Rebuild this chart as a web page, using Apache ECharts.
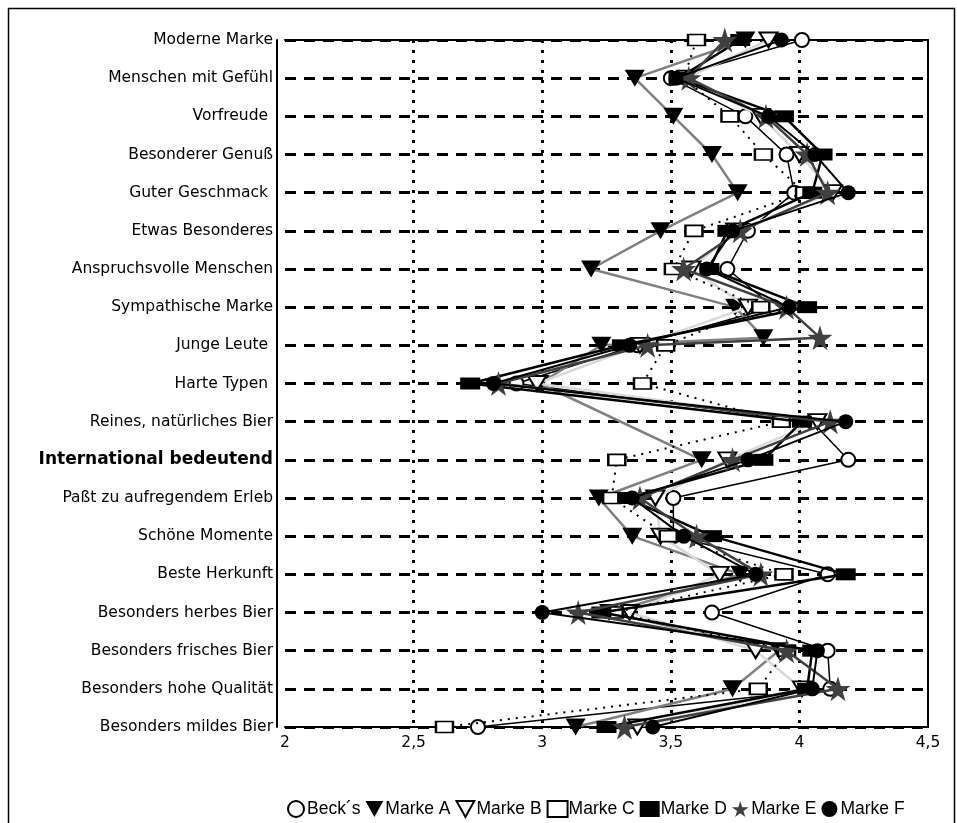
<!DOCTYPE html>
<html><head><meta charset="utf-8">
<script src="https://cdn.jsdelivr.net/npm/echarts@6/dist/echarts.min.js"></script>
<style>html,body{margin:0;padding:0;background:#fff}#c{width:957px;height:823px}</style>
</head><body><div id="c"></div>
<script>
const categories = [
  'Moderne Marke', 'Menschen mit Gefühl', 'Vorfreude ', 'Besonderer Genuß', 'Guter Geschmack ',
  'Etwas Besonderes', 'Anspruchsvolle Menschen', 'Sympathische Marke', 'Junge Leute ', 'Harte Typen ',
  'Reines, natürliches Bier', 'International bedeutend', 'Paßt zu aufregendem Erleb', 'Schöne Momente',
  'Beste Herkunft', 'Besonders herbes Bier', 'Besonders frisches Bier', 'Besonders hohe Qualität', 'Besonders mildes Bier'
];
const boldCategories = ['International bedeutend'];
const xTicks = [2, 2.5, 3, 3.5, 4, 4.5];
const seriesNames = ['Beck´s', 'Marke A', 'Marke B', 'Marke C', 'Marke D', 'Marke E', 'Marke F'];

const becks  = [4.01, 3.50, 3.79, 3.95, 3.98, 3.80, 3.72, 3.90, 3.37, 2.90, 4.05, 4.19, 3.51, 3.51, 4.11, 3.66, 4.11, 4.12, 2.75];
const markeA = [3.79, 3.36, 3.51, 3.66, 3.76, 3.46, 3.19, 3.75, 3.23, 2.99, null, 3.62, 3.22, 3.35, 3.77, 3.26, 3.92, 3.74, 3.13];
const markeB = [3.88, 3.56, 3.85, 4.00, 4.13, 3.75, 3.58, 3.80, 3.38, 2.98, 4.07, 3.72, 3.44, 3.46, 3.69, 3.34, 3.83, 4.01, 3.37];
const markeC = [3.60, 3.55, 3.73, 3.86, 4.02, 3.59, 3.51, 3.85, 3.48, 3.39, 3.93, 3.29, 3.27, 3.49, 3.94, 3.28, 3.95, 3.84, 2.62];
const markeD = [3.77, 3.53, 3.94, 4.09, 4.05, 3.72, 3.65, 4.03, 3.31, 2.72, 4.01, 3.86, 3.33, 3.66, 4.18, 3.23, 4.05, 4.03, 3.25];
const markeE = [3.71, 3.57, 3.87, 4.03, 4.11, 3.77, 3.55, 3.95, 3.41, 2.83, 4.12, 3.74, 3.38, 3.60, 3.85, 3.14, 3.95, 4.15, 3.32];
const markeF = [3.93, 3.52, 3.88, 4.06, 4.19, 3.74, 3.64, 3.96, 3.34, 2.81, 4.18, 3.80, 3.35, 3.55, 3.83, 3.00, 4.07, 4.05, 3.43];

// extra points drawn between "Sympathische Marke" and "Junge Leute"
const extraAfterIndex = 7;
const extraRow = 7.8;
const extraA = 3.86;
const extraE = 4.08;

function build(values, extra) {
  const out = [];
  values.forEach((v, i) => {
    if (v != null) out.push([v, i]);
    if (extra != null && i === extraAfterIndex) out.push([extra, extraRow]);
  });
  return out;
}

const triDown = 'path://M0,0L20,0L10,18Z';
const star = 'path://M50,0L61,35L98,35L68,57L79,91L50,70L21,91L32,57L2,35L39,35Z';

const styles = [
  { data: build(becks), symbol: 'circle', size: 14, item: { color: '#fff', borderColor: '#000', borderWidth: 2 }, line: { color: '#000', width: 1.5 } },
  { data: build(markeA, extraA), symbol: triDown, size: [20, 17], item: { color: '#000', borderColor: '#000', borderWidth: 0 }, line: { color: '#808080', width: 2.5 } },
  { data: build(markeB), symbol: triDown, size: [18, 15], item: { color: '#fff', borderColor: '#000', borderWidth: 2 }, line: { color: '#d9d9d9', width: 2.5 } },
  { data: build(markeC), symbol: 'rect', size: [17, 11], item: { color: '#fff', borderColor: '#000', borderWidth: 2 }, line: { color: '#000', width: 2, type: [2, 6] } },
  { data: build(markeD), symbol: 'rect', size: [20, 12], item: { color: '#000', borderColor: '#000', borderWidth: 0 }, line: { color: '#000', width: 2.5 } },
  { data: build(markeE, extraE), symbol: star, size: 25, item: { color: '#404040', borderColor: '#404040', borderWidth: 0 }, line: { color: '#404040', width: 2.5 } },
  { data: build(markeF), symbol: 'circle', size: 15, item: { color: '#000', borderColor: '#000', borderWidth: 0 }, line: { color: '#000', width: 2 } }
];

const series = styles.map((s, i) => ({
  name: seriesNames[i],
  type: 'line',
  data: s.data,
  symbol: s.symbol,
  symbolSize: s.size,
  showSymbol: true,
  showAllSymbol: true,
  itemStyle: s.item,
  lineStyle: s.line,
  animation: false,
  z: 3 + i,
  emphasis: { disabled: true }
}));

const legendIcons = ['circle', triDown, triDown, 'rect', 'rect', star, 'circle'];

const chart = echarts.init(document.getElementById('c'), null, { renderer: 'canvas' });
chart.setOption({
  animation: false,
  backgroundColor: '#fff',
  textStyle: { fontFamily: 'DejaVu Sans' },
  graphic: [{
    type: 'rect', shape: { x: 8.5, y: 8.5, width: 946, height: 830 },
    style: { fill: 'none', stroke: '#000', lineWidth: 1.5 }, silent: true, z: 0
  }],
  grid: { left: 285, right: 29, top: 40, bottom: 96, containLabel: false },
  xAxis: [{
    type: 'value', min: xTicks[0], max: xTicks[xTicks.length - 1], interval: 0.5, position: 'bottom',
    axisLine: { show: true, onZero: false, lineStyle: { color: '#000', width: 2 } },
    axisTick: { show: false },
    axisLabel: { color: '#000', fontSize: 15.5, fontFamily: 'DejaVu Sans', margin: 8,
      formatter: v => String(v).replace('.', ',') },
    splitLine: { show: true, showMinLine: false, showMaxLine: false, lineStyle: { color: '#000', width: 3, type: [3, 7] } }
  }, {
    type: 'value', min: xTicks[0], max: xTicks[xTicks.length - 1], position: 'top',
    axisLine: { show: true, onZero: false, lineStyle: { color: '#000', width: 2 } },
    axisTick: { show: false }, axisLabel: { show: false }, splitLine: { show: false }
  }],
  yAxis: [{
    type: 'value', min: 0, max: categories.length - 1, interval: 1, inverse: true, offset: 8,
    axisLine: { show: true, onZero: false, lineStyle: { color: '#000', width: 2 } },
    axisTick: { show: false },
    axisLabel: {
      color: '#000', fontSize: 15.5, fontFamily: 'DejaVu Sans', margin: 4,
      formatter: v => {
        const c = categories[v];
        if (c == null) return '';
        return boldCategories.includes(c) ? '{b|' + c + '}' : c;
      },
      rich: { b: { fontWeight: 'bold', fontSize: 17, fontFamily: 'DejaVu Sans', color: '#000' } }
    },
    splitLine: { show: true, lineStyle: { color: '#000', width: 3, type: [11, 8] } }
  }, {
    type: 'value', min: 0, max: categories.length - 1, inverse: true, position: 'right',
    axisLine: { show: true, onZero: false, lineStyle: { color: '#000', width: 2 } },
    axisTick: { show: false }, axisLabel: { show: false }, splitLine: { show: false }
  }],
  legend: {
    left: 282, top: 795, itemGap: 5, itemWidth: 20, itemHeight: 16, selectedMode: false,
    textStyle: { color: '#000', fontSize: 17.5, fontFamily: 'Liberation Sans', padding: [0, 0, 0, -4] },
    data: seriesNames.map((n, i) => ({ name: n, icon: legendIcons[i] }))
  },
  series: series
});
</script>
</body></html>
